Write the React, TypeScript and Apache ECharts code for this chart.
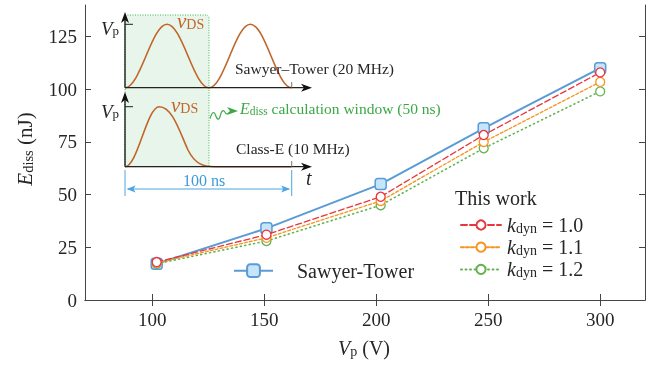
import React, { useEffect, useRef } from "react";
import * as echarts from "echarts";

const voltages = [102, 151, 202, 248, 300];
const sawyerTower = [17.2, 34, 55, 81.5, 110];
const kdyn10 = [18, 31, 49, 78.3, 108];
const kdyn11 = [17.6, 29.5, 47, 75, 103.5];
const kdyn12 = [17.2, 28, 45, 72, 99];
const xTicks = [100, 150, 200, 250, 300];
const yTicks = [0, 25, 50, 75, 100, 125];
const kLabels: Record<string, string> = { k10: "1.0", k11: "1.1", k12: "1.2" };

const FONT = "Liberation Serif";
const BLUE = "#5b9bd5";
const RED = "#e8363c";
const ORANGE = "#f7941d";
const GREEN = "#62b34f";
const BROWN = "#c0662b";
const TXT = "#262626";

// raised-cosine hump path helper (schematic illustration only)
function hump(x0: number, x1: number, base: number, peak: number) {
  const xm = (x0 + x1) / 2;
  const a = 0.3634 * (xm - x0);
  return `C${x0 + a},${base} ${xm - a},${peak} ${xm},${peak} C${xm + a},${peak} ${x1 - a},${base} ${x1},${base}`;
}

let registered = false;
function registerShapes() {
  if (registered) return;
  registered = true;
  const top = `M125,87.7 ${hump(125, 209, 87.7, 24.3)} ${hump(209, 291.7, 87.7, 24.3)}`;
  const bottom =
    "M125,166.7 C137.5,166.7 146.8,106.7 159.3,106.7 C172,106.7 179,130 188,150 C195,164 203,166.7 215,166.7 L291.7,166.7";
  const squiggle =
    "M210,118.5 C212,112 214,111 215.5,115 C217,120 219,121 220.5,115 C222,109 224,110 225.5,113 C227,116 229,111 233,111";
  echarts.graphic.registerShape("waveTop", echarts.graphic.extendPath(top, {}));
  echarts.graphic.registerShape("waveBottom", echarts.graphic.extendPath(bottom, {}));
  echarts.graphic.registerShape("squiggle", echarts.graphic.extendPath(squiggle, {}));
}

const pairs = (ys: number[]) => voltages.map((v, i) => [v, ys[i]]);

export default function App() {
  const ref = useRef<HTMLDivElement>(null);
  useEffect(() => {
    if (!ref.current) return;
    registerShapes();
    const chart = echarts.init(ref.current, null, { renderer: "svg" });
    const axisLine = { show: true, lineStyle: { color: "#444", width: 1 } };
    const tick = { show: true, inside: true, length: 6, lineStyle: { color: "#444" } };
    const circleSeries = (name: string, data: number[], color: string, dash: any, z: number, w = 1.3) => ({
      name,
      type: "line",
      data: pairs(data),
      symbol: "circle",
      symbolSize: 9,
      z,
      lineStyle: { color, width: w, type: dash, cap: "round" },
      itemStyle: { color: "#fff", borderColor: color, borderWidth: 1.3 },
    });
    const sub = (size: number, color = TXT) => ({
      fontFamily: FONT,
      fontSize: size,
      color,
      fill: color,
      padding: [size * 0.45, 0, 0, 0],
    });
    const arrowUp = (x: number, y: number) => ({
      type: "polygon",
      shape: { points: [[x, y], [x - 4, y + 11], [x, y + 8], [x + 4, y + 11]] },
      style: { fill: "#111" },
    });
    const arrowRight = (x: number, y: number, fill = "#111") => ({
      type: "polygon",
      shape: { points: [[x, y], [x - 11, y - 4], [x - 8, y], [x - 11, y + 4]] },
      style: { fill },
    });
    const arrowLeft = (x: number, y: number, fill: string) => ({
      type: "polygon",
      shape: { points: [[x, y], [x + 9, y - 3.5], [x + 7, y], [x + 9, y + 3.5]] },
      style: { fill },
    });
    const line = (x1: number, y1: number, x2: number, y2: number, stroke: string, lineWidth = 1.2) => ({
      type: "line",
      shape: { x1, y1, x2, y2 },
      style: { stroke, lineWidth },
    });
    const rt = (x: number, y: number, text: string, rich: any, extra: any = {}) => ({
      type: "text",
      x,
      y,
      style: { text, rich, verticalAlign: "middle", ...extra },
    });
    const vpRich = {
      v: { fontFamily: FONT, fontStyle: "italic", fontSize: 19, fill: TXT },
      p: sub(13),
    };
    const vdsRich = {
      v: { fontFamily: FONT, fontStyle: "italic", fontSize: 21, fill: BROWN },
      d: sub(14, BROWN),
    };

    const graphics: any[] = [
      {
        type: "rect",
        shape: { x: 125, y: 15, width: 84, height: 151.7, r: [0, 3, 0, 0] },
        style: { fill: "#e8f5ea", stroke: "#3fb24f", lineWidth: 1, lineDash: [1, 1.5] },
      },
      { type: "waveTop", style: { fill: "none", stroke: BROWN, lineWidth: 1.6 } },
      { type: "waveBottom", style: { fill: "none", stroke: BROWN, lineWidth: 1.6 } },
      line(125, 18, 125, 87.7, "#111", 1.3),
      line(125, 98, 125, 166.7, "#111", 1.3),
      line(125, 87.7, 305, 87.7, "#222", 1.3),
      line(125, 166.7, 305, 166.7, "#222", 1.3),
      arrowUp(125, 12),
      arrowUp(125, 92),
      arrowRight(312, 87.7),
      arrowRight(312, 166.7),
      line(125, 24.3, 133, 24.3, "#222", 1),
      line(125, 106.7, 133, 106.7, "#222", 1),
      line(291.7, 82, 291.7, 87.7, "#777", 1),
      line(291.7, 161, 291.7, 166.7, "#777", 1),
      rt(101, 28, "{v|V}{p|p}", vpRich),
      rt(101, 111, "{v|V}{p|p}", vpRich),
      rt(177, 21, "{v|v}{d|DS}", vdsRich),
      rt(171, 105, "{v|v}{d|DS}", vdsRich),
      {
        type: "text",
        x: 235,
        y: 68,
        style: { text: "Sawyer–Tower (20 MHz)", font: `15.5px "${FONT}"`, fill: TXT, verticalAlign: "middle" },
      },
      {
        type: "text",
        x: 236,
        y: 148,
        style: { text: "Class-E (10 MHz)", font: `15.5px "${FONT}"`, fill: TXT, verticalAlign: "middle" },
      },
      { type: "squiggle", style: { fill: "none", stroke: "#3aa845", lineWidth: 1.1 } },
      arrowRight(238, 111, "#3aa845"),
      rt(240, 108, "{e|E}{s|diss}{n| calculation window (50 ns)}", {
        e: { fontFamily: FONT, fontStyle: "italic", fontSize: 16, fill: "#3aa845" },
        s: sub(11.5, "#3aa845"),
        n: { fontFamily: FONT, fontSize: 15.5, fill: "#3aa845" },
      }),
      // 100 ns dimension
      line(125, 170, 125, 196, "#4da6e0", 1),
      line(291.7, 170, 291.7, 196, "#4da6e0", 1),
      line(128, 189, 289, 189, "#4da6e0", 1),
      arrowLeft(126.5, 189, "#4da6e0"),
      { type: "polygon", shape: { points: [[290.2, 189], [281.2, 185.5], [283.2, 189], [281.2, 192.5]] }, style: { fill: "#4da6e0" } },
      {
        type: "text",
        x: 204,
        y: 180,
        style: { text: "100 ns", font: `16px "${FONT}"`, fill: "#3d9ad9", align: "center", verticalAlign: "middle" },
      },
      {
        type: "text",
        x: 306,
        y: 178,
        style: { text: "t", font: `italic 20px "${FONT}"`, fill: TXT, verticalAlign: "middle" },
      },
      // This work
      {
        type: "text",
        x: 455,
        y: 198,
        style: { text: "This work", font: `20px "${FONT}"`, fill: TXT, verticalAlign: "middle" },
      },
      // axis titles
      {
        type: "text",
        x: 25,
        y: 149,
        rotation: Math.PI / 2,
        style: {
          text: "{e|E}{s|diss}{n| (nJ)}",
          align: "center",
          verticalAlign: "middle",
          rich: {
            e: { fontFamily: FONT, fontStyle: "italic", fontSize: 21, fill: TXT },
            s: sub(14.5),
            n: { fontFamily: FONT, fontSize: 21, fill: TXT },
          },
        },
      },
      {
        type: "text",
        x: 364,
        y: 348,
        style: {
          text: "{e|V}{s|p}{n| (V)}",
          align: "center",
          verticalAlign: "middle",
          rich: {
            e: { fontFamily: FONT, fontStyle: "italic", fontSize: 20, fill: TXT },
            s: sub(14),
            n: { fontFamily: FONT, fontSize: 20, fill: TXT },
          },
        },
      },
    ];

    chart.setOption({
      animation: false,
      grid: { left: 85, right: 12, top: 5, bottom: 68 },
      xAxis: [
        {
          type: "value",
          min: 70,
          max: 320,
          axisLine,
          axisTick: { ...tick, customValues: xTicks },
          axisLabel: { customValues: xTicks, fontFamily: FONT, fontSize: 19, color: TXT, margin: 10 },
          splitLine: { show: false },
        },
        {
          type: "value",
          position: "top",
          min: 70,
          max: 320,
          axisLine,
          axisTick: { ...tick, customValues: xTicks },
          axisLabel: { show: false },
          splitLine: { show: false },
        },
      ],
      yAxis: [
        {
          type: "value",
          min: 0,
          max: 140,
          axisLine,
          axisTick: { ...tick, customValues: yTicks },
          axisLabel: { customValues: yTicks, fontFamily: FONT, fontSize: 19, color: TXT, margin: 8 },
          splitLine: { show: false },
        },
        {
          type: "value",
          position: "right",
          min: 0,
          max: 140,
          axisLine,
          axisTick: { ...tick, customValues: yTicks },
          axisLabel: { show: false },
          splitLine: { show: false },
        },
      ],
      legend: [
        {
          data: ["Sawyer-Tower"],
          left: 228,
          top: 255.7,
          itemWidth: 39,
          itemHeight: 16,
          selectedMode: false,
          textStyle: { fontFamily: FONT, fontSize: 20, color: TXT, padding: [0, 0, 0, 19] },
        },
        {
          data: ["k10", "k11", "k12"],
          orient: "vertical",
          left: 455,
          top: 209.5,
          itemWidth: 40,
          itemHeight: 11.5,
          itemGap: 1.2,
          selectedMode: false,
          formatter: (name: string) => `{k|k}{s|dyn}{n| = ${kLabels[name]}}`,
          textStyle: {
            rich: {
              k: { fontFamily: FONT, fontStyle: "italic", fontSize: 20, lineHeight: 22, color: TXT, padding: [0, 0, 0, 1] },
              s: { fontFamily: FONT, fontSize: 14, lineHeight: 14, color: TXT, padding: [7, 0, 0, 0] },
              n: { fontFamily: FONT, fontSize: 20, lineHeight: 22, color: TXT },
            },
          },
        },
      ],
      graphic: graphics,
      series: [
        {
          name: "Sawyer-Tower",
          type: "line",
          data: pairs(sawyerTower),
          symbol: "roundRect",
          symbolSize: 11,
          z: 2,
          lineStyle: { color: BLUE, width: 2 },
          itemStyle: { color: "#c4e5fa", borderColor: BLUE, borderWidth: 1.5 },
        },
        circleSeries("k12", kdyn12, GREEN, [1, 3.5], 3, 1.6),
        circleSeries("k11", kdyn11, ORANGE, [3, 2], 4),
        circleSeries("k10", kdyn10, RED, [6, 3], 5),
      ],
    });
    return () => chart.dispose();
  }, []);
  return <div ref={ref} style={{ position: "fixed", left: 0, top: 0, width: 657, height: 368 }} />;
}
